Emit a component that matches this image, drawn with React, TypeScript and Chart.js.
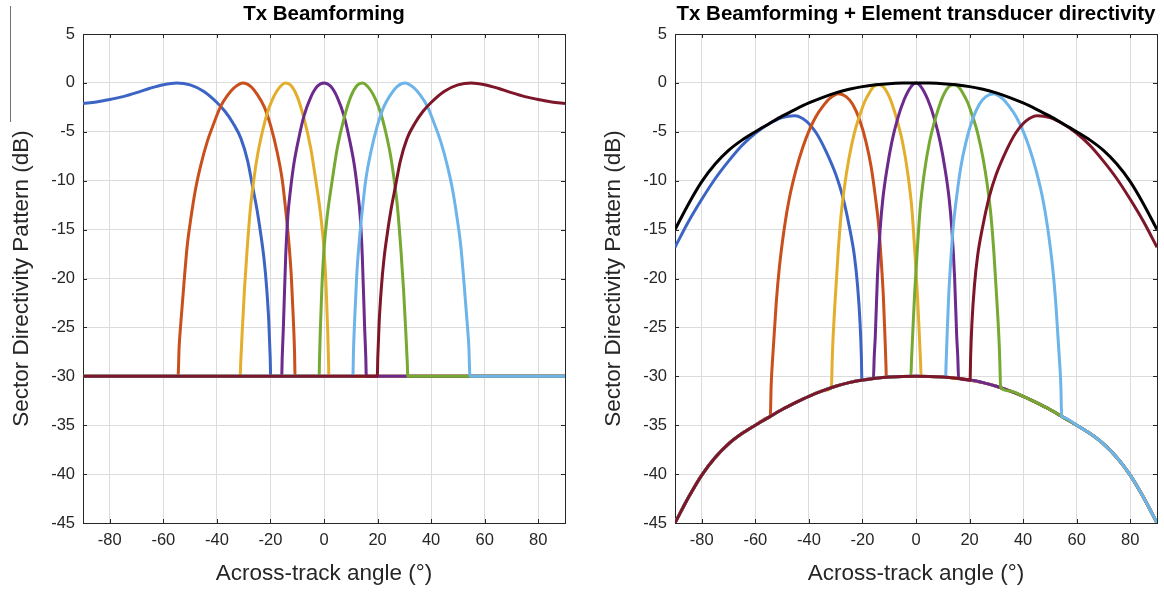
import React, { useEffect, useRef } from "react";
import { Chart, registerables } from "chart.js";

Chart.register(...registerables);

type P = [number, number];

// ---------- axes / text ----------
const angleTicks = [-80, -60, -40, -20, 0, 20, 40, 60, 80];
const dbTicks = [5, 0, -5, -10, -15, -20, -25, -30, -35, -40, -45];
const panelTitles = ["Tx Beamforming", "Tx Beamforming + Element transducer directivity"];
const xTitle = "Across-track angle (°)";
const yTitle = "Sector Directivity Pattern (dB)";

// beam colours (MATLAB order: blue, orange, yellow, purple, green, light blue, dark red)
const beamColors = ["#3c64c4", "#c9501c", "#e2ae2c", "#6b2a8c", "#76a932", "#6db4ea", "#7d1628"];
const directivityColor = "#000000";

// ---------- left panel: Tx beamforming only (floor at -30 dB) ----------
const txFloor: P[] = [[-90, -30], [90, -30]];

const txBlue: P[] = [[-90, -2.1], [-85, -1.95], [-80, -1.7], [-75, -1.4], [-70, -1.0], [-65, -0.55], [-60, -0.18], [-55, 0], [-50, -0.2], [-45, -0.85], [-40, -2.0], [-37, -2.9], [-34, -4.1], [-31, -5.7], [-28.5, -8.0], [-26.8, -10.4], [-25, -13], [-23.7, -15.3], [-22.4, -18], [-21.4, -21], [-20.6, -24.5], [-20.1, -28], [-19.9, -30]];
const txOrange: P[] = [[-54.5, -30], [-54.1, -27], [-53.6, -25], [-52.3, -20.5], [-51.1, -16.7], [-49.8, -14], [-48, -10.9], [-46.1, -8.5], [-43.6, -6], [-41.1, -4.1], [-38.6, -2.4], [-36.1, -1.3], [-33.6, -0.5], [-30.2, 0], [-27.4, -0.35], [-24.9, -1.2], [-22.4, -2.4], [-19.9, -4.4], [-17.4, -7.2], [-15.6, -9.9], [-14.3, -13], [-13.1, -16.4], [-12.2, -19.8], [-11.5, -23.9], [-11.0, -27.5], [-10.8, -30]];
const txYellow: P[] = [[-31.3, -30], [-31.1, -28.6], [-30.5, -25.2], [-29.7, -21.1], [-28.7, -17], [-27.4, -12.6], [-26.2, -9.9], [-24.9, -7.5], [-23.1, -5.1], [-21.2, -3.1], [-19.3, -1.7], [-17.4, -0.75], [-15.6, -0.17], [-14.3, 0], [-12.4, -0.25], [-10, -1.4], [-7.5, -3.6], [-5, -6.6], [-3.1, -9.9], [-1.2, -13.6], [0, -17], [0.8, -21], [1.4, -25.5], [1.7, -28.5], [1.8, -30]];
const txPurple: P[] = [[-15.8, -30], [-15.6, -28], [-15.2, -25.2], [-14.3, -17.7], [-13.5, -13.6], [-12.5, -10.9], [-11.2, -8.2], [-9.3, -5.5], [-7.5, -3.4], [-5, -1.5], [-2.5, -0.35], [0, 0], [2.5, -0.35], [5, -1.5], [7.5, -3.4], [9.3, -5.5], [11.2, -8.2], [12.5, -10.9], [13.5, -13.6], [14.3, -17.7], [15.2, -25.2], [15.6, -28], [15.8, -30]];
const txGreen: P[] = [[-1.8, -30], [-1.7, -28.5], [-1.4, -25.5], [-0.8, -21], [0, -17], [1.2, -13.6], [3.1, -9.9], [5, -6.6], [7.5, -3.6], [10, -1.4], [12.4, -0.25], [14.3, 0], [15.6, -0.17], [17.4, -0.75], [19.3, -1.7], [21.2, -3.1], [23.1, -5.1], [24.9, -7.5], [26.2, -9.9], [27.4, -12.6], [28.7, -17], [29.7, -21.1], [30.5, -25.2], [31.1, -28.6], [31.3, -30]];
const txLightBlue: P[] = [[10.8, -30], [11.0, -27.5], [11.5, -23.9], [12.2, -19.8], [13.1, -16.4], [14.3, -13], [15.6, -9.9], [17.4, -7.2], [19.9, -4.4], [22.4, -2.4], [24.9, -1.2], [27.4, -0.35], [30.2, 0], [33.6, -0.5], [36.1, -1.3], [38.6, -2.4], [41.1, -4.1], [43.6, -6], [46.1, -8.5], [48, -10.9], [49.8, -14], [51.1, -16.7], [52.3, -20.5], [53.6, -25], [54.1, -27], [54.5, -30]];
const txDarkRed: P[] = [[19.9, -30], [20.1, -28], [20.6, -24.5], [21.4, -21], [22.4, -18], [23.7, -15.3], [25, -13], [26.8, -10.4], [28.5, -8.0], [31, -5.7], [34, -4.1], [37, -2.9], [40, -2.0], [45, -0.85], [50, -0.2], [55, 0], [60, -0.18], [65, -0.55], [70, -1.0], [75, -1.4], [80, -1.7], [85, -1.95], [90, -2.1]];

// ---------- right panel: beamforming + element directivity ----------
const elemDirectivity: P[] = [[-90, -15], [-85, -12.4], [-80, -10.1], [-75, -8.3], [-70, -6.9], [-65, -5.85], [-60, -5.0], [-55, -4.2], [-50, -3.4], [-45, -2.7], [-40, -2.05], [-35, -1.5], [-30, -1.02], [-25, -0.65], [-20, -0.38], [-15, -0.2], [-10, -0.08], [-5, -0.02], [0, 0], [5, -0.02], [10, -0.08], [15, -0.2], [20, -0.38], [25, -0.65], [30, -1.02], [35, -1.5], [40, -2.05], [45, -2.7], [50, -3.4], [55, -4.2], [60, -5.0], [65, -5.85], [70, -6.9], [75, -8.3], [80, -10.1], [85, -12.4], [90, -15]];
const elemFloor: P[] = [[-90, -45], [-85, -42.4], [-80, -40.1], [-75, -38.3], [-70, -36.9], [-65, -35.85], [-60, -35.0], [-55, -34.2], [-50, -33.4], [-45, -32.7], [-40, -32.05], [-35, -31.5], [-30, -31.02], [-25, -30.65], [-20, -30.38], [-15, -30.2], [-10, -30.08], [-5, -30.02], [0, -30], [5, -30.02], [10, -30.08], [15, -30.2], [20, -30.38], [25, -30.65], [30, -31.02], [35, -31.5], [40, -32.05], [45, -32.7], [50, -33.4], [55, -34.2], [60, -35.0], [65, -35.85], [70, -36.9], [75, -38.3], [80, -40.1], [85, -42.4], [90, -45]];

const elBlue: P[] = [[-90, -16.8], [-85, -14.2], [-80, -11.9], [-75, -9.8], [-70, -8.0], [-65, -6.4], [-60, -5.15], [-55, -4.2], [-50, -3.55], [-45.4, -3.35], [-41, -3.9], [-37.3, -5.1], [-33.6, -7.0], [-29.9, -9.4], [-27.4, -11.6], [-24.9, -14.7], [-23, -17.7], [-21.8, -20.8], [-20.9, -24.5], [-20.4, -28], [-20.2, -30.4]];
const elOrange: P[] = [[-54.4, -34.1], [-54.1, -31], [-53.5, -28], [-52.2, -22.5], [-51, -18.8], [-49.1, -14.7], [-47.3, -11.8], [-44.8, -8.9], [-42.3, -6.6], [-39.8, -4.8], [-37.3, -3.4], [-34.8, -2.4], [-32.3, -1.6], [-28.9, -1.1], [-26.1, -1.4], [-23.6, -2.2], [-21.1, -3.75], [-18.7, -6.0], [-16.8, -8.5], [-15.2, -11.6], [-13.9, -14.7], [-13.1, -17.7], [-12.2, -21.8], [-11.6, -25.9], [-11.2, -29.0], [-11.1, -30.1]];
const elYellow: P[] = [[-31.6, -31.15], [-31.3, -28.5], [-31.1, -26.9], [-30.1, -21.8], [-29.1, -17.4], [-28, -13.6], [-26.7, -10.6], [-25.1, -7.8], [-23, -5.1], [-21.1, -3.4], [-19.3, -2.0], [-17.4, -1.0], [-15.9, -0.4], [-14.3, -0.2], [-12.4, -0.35], [-10, -1.4], [-7.5, -3.4], [-5, -6.1], [-3.1, -9.2], [-1.5, -13], [-0.5, -17], [0.5, -21.5], [1.2, -25.5], [1.7, -28.5], [1.9, -30]];
const elPurple: P[] = [[-15.9, -30.2], [-15.6, -28], [-15.2, -25.9], [-14.4, -19.8], [-13.4, -15], [-12.4, -11.9], [-10.9, -8.9], [-9, -6.0], [-6.8, -3.6], [-4.4, -1.7], [-1.9, -0.4], [0, 0], [1.9, -0.4], [4.4, -1.7], [6.8, -3.6], [9, -6.0], [10.9, -8.9], [12.4, -11.9], [13.4, -15], [14.4, -19.8], [15.2, -25.9], [15.6, -28], [15.9, -30.2]];
const elGreen: P[] = [[-1.9, -30], [-1.7, -28.5], [-1.2, -25.5], [-0.5, -21.5], [0.5, -17], [1.5, -13], [3.1, -9.2], [5, -6.1], [7.5, -3.4], [10, -1.4], [12.4, -0.35], [14.3, -0.2], [15.9, -0.4], [17.4, -1.0], [19.3, -2.0], [21.1, -3.4], [23, -5.1], [25.1, -7.8], [26.7, -10.6], [28, -13.6], [29.1, -17.4], [30.1, -21.8], [31.1, -26.9], [31.3, -28.5], [31.6, -31.15]];
const elLightBlue: P[] = [[11.1, -30.1], [11.2, -29.0], [11.6, -25.9], [12.2, -21.8], [13.1, -17.7], [13.9, -14.7], [15.2, -11.6], [16.8, -8.5], [18.7, -6.0], [21.1, -3.75], [23.6, -2.2], [26.1, -1.4], [28.9, -1.1], [32.3, -1.6], [34.8, -2.4], [37.3, -3.4], [39.8, -4.8], [42.3, -6.6], [44.8, -8.9], [47.3, -11.8], [49.1, -14.7], [51, -18.8], [52.2, -22.5], [53.5, -28], [54.1, -31], [54.4, -34.1]];
const elDarkRed: P[] = [[20.2, -30.4], [20.4, -28], [20.9, -24.5], [21.8, -20.8], [23, -17.7], [24.9, -14.7], [27.4, -11.6], [29.9, -9.4], [33.6, -7.0], [37.3, -5.1], [41, -3.9], [45.4, -3.35], [50, -3.55], [55, -4.2], [60, -5.15], [65, -6.4], [70, -8.0], [75, -9.8], [80, -11.9], [85, -14.2], [90, -16.8]];

// ---------- helpers ----------
const FONT = '"Liberation Sans", Arial, Helvetica, sans-serif';
const AXIS_COLOR = "#262626";
const GRID_COLOR = "#dcdcdc";

function withFloor(beam: P[], floor: P[]) {
  const first = beam[0][0];
  const last = beam[beam.length - 1][0];
  const pts = [
    ...floor.filter((p) => p[0] < first),
    ...beam,
    ...floor.filter((p) => p[0] > last),
  ];
  return pts.map(([x, y]) => ({ x, y }));
}

const framePlugin = {
  id: "matlabFrame",
  beforeDatasetsDraw(chart: any) {
    const { ctx, chartArea: a, scales } = chart;
    ctx.save();
    ctx.strokeStyle = AXIS_COLOR;
    ctx.lineWidth = 1;
    ctx.beginPath();
    const tl = 4;
    for (const v of angleTicks) {
      const px = Math.round(scales.x.getPixelForValue(v)) + 0.5;
      ctx.moveTo(px, a.bottom);
      ctx.lineTo(px, a.bottom - tl);
      ctx.moveTo(px, a.top);
      ctx.lineTo(px, a.top + tl);
    }
    for (const v of dbTicks) {
      const py = Math.round(scales.y.getPixelForValue(v)) + 0.5;
      ctx.moveTo(a.left, py);
      ctx.lineTo(a.left + tl, py);
      ctx.moveTo(a.right, py);
      ctx.lineTo(a.right - tl, py);
    }
    ctx.stroke();
    ctx.strokeRect(Math.round(a.left) + 0.5, Math.round(a.top) + 0.5, Math.round(a.right - a.left), Math.round(a.bottom - a.top));
    ctx.restore();
  },
  afterDraw(chart: any) {
    const { ctx, chartArea: a } = chart;
    const t = chart.options.plugins.matlabFrame?.title ?? "";
    ctx.save();
    ctx.fillStyle = "#000";
    ctx.font = `bold 20.5px ${FONT}`;
    ctx.textAlign = "center";
    ctx.textBaseline = "middle";
    ctx.fillText(t, (a.left + a.right) / 2, 14);
    ctx.restore();
  },
};

function makeConfig(title: string, series: { pts: { x: number; y: number }[]; color: string }[], padRight: number) {
  return {
    type: "line" as const,
    data: {
      datasets: series.map((s) => ({
        data: s.pts,
        borderColor: s.color,
        backgroundColor: s.color,
        borderWidth: 3,
        pointRadius: 0,
        fill: false,
        cubicInterpolationMode: "monotone" as const,
        borderJoinStyle: "round" as const,
      })),
    },
    options: {
      animation: false as const,
      responsive: false,
      devicePixelRatio: 1,
      events: [],
      layout: { padding: { top: 34, right: padRight, bottom: 0, left: 0 } },
      plugins: {
        legend: { display: false },
        tooltip: { enabled: false },
        title: { display: false },
        matlabFrame: { title },
      },
      scales: {
        x: {
          type: "linear" as const,
          min: -90,
          max: 90,
          afterBuildTicks: (s: any) => {
            s.ticks = angleTicks.map((v) => ({ value: v }));
          },
          afterFit: (s: any) => {
            s.height = 69;
          },
          grid: { color: GRID_COLOR, lineWidth: 1, drawTicks: false },
          border: { display: false },
          ticks: { padding: 8, color: AXIS_COLOR, font: { family: FONT, size: 16.5 }, maxRotation: 0, autoSkip: false },
          title: { display: true, text: xTitle, color: AXIS_COLOR, font: { family: FONT, size: 22.5 }, padding: { top: 0, bottom: 4.7 } },
        },
        y: {
          type: "linear" as const,
          min: -45,
          max: 5,
          afterBuildTicks: (s: any) => {
            s.ticks = dbTicks.map((v) => ({ value: v }));
          },
          afterFit: (s: any) => {
            s.width = 83;
          },
          grid: { color: GRID_COLOR, lineWidth: 1, drawTicks: false },
          border: { display: false },
          ticks: { padding: 8, color: AXIS_COLOR, font: { family: FONT, size: 16.5 }, autoSkip: false },
          title: { display: true, text: yTitle, color: AXIS_COLOR, font: { family: FONT, size: 22.5 }, padding: { top: 8, bottom: 0 } },
        },
      },
    },
    plugins: [framePlugin],
  };
}

function Panel({ left, width, config }: { left: number; width: number; config: any }) {
  const ref = useRef<HTMLCanvasElement | null>(null);
  useEffect(() => {
    if (!ref.current) return;
    const chart = new Chart(ref.current, config);
    return () => chart.destroy();
  }, [config]);
  return (
    <canvas
      ref={ref}
      width={width}
      height={592}
      style={{ position: "absolute", left, top: 0, width, height: 592 }}
    />
  );
}

const leftSeries = [txDarkRed, txLightBlue, txGreen, txPurple, txYellow, txOrange, txBlue].map((b, i) => ({
  pts: withFloor(b, txFloor),
  color: beamColors[6 - i],
}));

const rightSeries = [
  { pts: elemDirectivity.map(([x, y]) => ({ x, y })), color: directivityColor },
  ...[elDarkRed, elLightBlue, elGreen, elPurple, elYellow, elOrange, elBlue].map((b, i) => ({
    pts: withFloor(b, elemFloor),
    color: beamColors[6 - i],
  })),
];

const leftConfig = makeConfig(panelTitles[0], leftSeries, 27);
const rightConfig = makeConfig(panelTitles[1], rightSeries, 7);

export default function App() {
  return (
    <div style={{ position: "fixed", left: 0, top: 0, width: 1164, height: 592, background: "#fff", overflow: "hidden" }}>
      <div style={{ position: "absolute", left: 10, top: 6, width: 1, height: 116, background: "#707070" }} />
      <Panel left={0} width={592} config={leftConfig} />
      <Panel left={592} width={572} config={rightConfig} />
    </div>
  );
}
